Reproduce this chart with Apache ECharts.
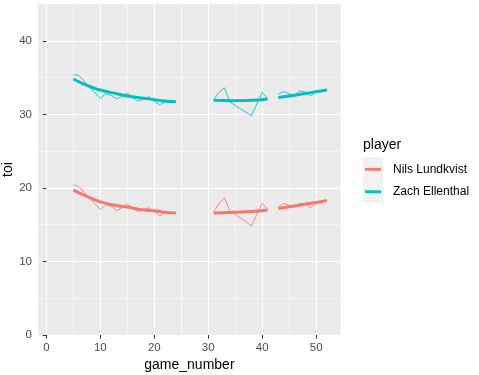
<!DOCTYPE html>
<html>
<head>
<meta charset="utf-8">
<script src="https://cdn.jsdelivr.net/npm/echarts@6/dist/echarts.min.js"></script>
<style>html,body{margin:0;padding:0;background:#fff}#c{width:479px;height:375px}</style>
</head>
<body>
<div id="c"></div>
<script>
const players = ['Nils Lundkvist', 'Zach Ellenthal'];
const colors = ['#F8766D', '#00BFC4'];
const segmentStarts = [5, 31, 43];
const games = [5,6,7,8,9,10,11,12,13,14,15,16,17,18,19,20,21,22,23,24,
               31,32,33,34,35,36,37,38,39,40,41,
               43,44,45,46,47,48,49,50,51,52];
const nilsToi = [20.4,20.2,19.4,18.6,17.8,17.1,17.7,17.5,16.9,17.3,17.8,17.2,16.8,17.0,17.3,16.8,16.2,16.7,16.6,16.6,
                 16.7,17.9,18.6,16.9,16.4,15.9,15.4,14.8,16.4,17.9,17.1,
                 17.4,17.9,17.6,17.4,17.9,17.8,17.3,17.9,18.0,18.3];
const zachToi = [35.4,35.3,34.5,33.7,32.9,32.2,32.8,32.6,32.1,32.4,32.9,32.3,31.8,32.1,32.4,31.8,31.3,31.7,31.7,31.7,
                 32.0,33.0,33.6,31.7,31.2,30.75,30.3,29.8,31.4,33.0,32.1,
                 32.75,33.1,32.8,32.6,33.2,33.0,32.5,33.1,33.2,33.4];
const smoothGames = [5,7,10,13,15,18,20,22,24, 31,34,38,41, 43,46,49,52];
const nilsSmooth = [19.7,19.0,18.1,17.6,17.4,17.0,16.9,16.7,16.6, 16.6,16.65,16.8,17.0, 17.2,17.55,17.9,18.3];
const zachSmooth = [34.8,34.1,33.3,32.8,32.5,32.2,32.0,31.8,31.7, 31.9,31.85,31.9,32.1, 32.3,32.6,32.95,33.3];
const xTicks = [0,10,20,30,40,50];
const xMinor = [5,15,25,35,45];
const yTicks = [0,10,20,30,40];
const yMinor = [5,15,25,35];

function build(xs, ys) {
  const out = [];
  xs.forEach((x, i) => {
    if (i > 0 && segmentStarts.indexOf(x) >= 0) out.push(null);
    out.push([x, ys[i]]);
  });
  return out;
}

const grid = {left: 38, top: 4, right: 138.3, bottom: 40, show: true, backgroundColor: '#EBEBEB', borderWidth: 0};
const txt = '#4D4D4D';
const font = 'Liberation Sans, Arial, sans-serif';

const option = {
  animation: false,
  grid: grid,
  xAxis: [
    {type: 'value', min: -1.55, max: 54.55, gridIndex: 0,
     axisLine: {show: false},
     axisTick: {show: true, length: 3.6, customValues: xTicks, lineStyle: {color: '#333333', width: 1}},
     axisLabel: {customValues: xTicks, color: txt, fontSize: 11.5, fontFamily: font, margin: 7},
     splitLine: {show: true, lineStyle: {color: '#FFFFFF', width: 1.07}}},
    {type: 'value', min: -1.55, max: 54.55, gridIndex: 0, position: 'bottom',
     axisLine: {show: false}, axisTick: {show: false, customValues: xMinor},
     axisLabel: {show: false, customValues: xMinor},
     splitLine: {show: true, lineStyle: {color: '#FFFFFF', width: 0.55}}}
  ],
  yAxis: [
    {type: 'value', min: 0, max: 45, gridIndex: 0,
     axisLine: {show: false},
     axisTick: {show: true, length: 3.6, customValues: yTicks, lineStyle: {color: '#333333', width: 1}},
     axisLabel: {customValues: yTicks, color: txt, fontSize: 11.5, fontFamily: font, margin: 6},
     splitLine: {show: true, lineStyle: {color: '#FFFFFF', width: 1.07}}},
    {type: 'value', min: 0, max: 45, gridIndex: 0, position: 'left',
     axisLine: {show: false}, axisTick: {show: false, customValues: yMinor},
     axisLabel: {show: false, customValues: yMinor},
     splitLine: {show: true, lineStyle: {color: '#FFFFFF', width: 0.55}}}
  ],
  series: [],
  graphic: []
};

const raw = [nilsToi, zachToi];
const sm = [nilsSmooth, zachSmooth];
players.forEach((p, i) => {
  option.series.push({
    name: p, type: 'line', xAxisIndex: 0, yAxisIndex: 0,
    data: build(games, raw[i]), showSymbol: false, connectNulls: false,
    lineStyle: {color: colors[i], width: 0.85}, itemStyle: {color: colors[i]}, z: 2
  });
  option.series.push({
    name: p + ' smooth', type: 'line', xAxisIndex: 0, yAxisIndex: 0,
    data: build(smoothGames, sm[i]), showSymbol: false, connectNulls: false, smooth: 0.4,
    lineStyle: {color: colors[i], width: 3}, itemStyle: {color: colors[i]}, z: 3
  });
});

// axis titles
option.graphic.push({type: 'text', x: 189.4, y: 365, style: {text: 'game_number', fill: '#000', font: '14px ' + font, align: 'center', verticalAlign: 'middle'}});
option.graphic.push({type: 'text', x: 8, y: 169.5, rotation: Math.PI / 2,
  style: {text: 'toi', fill: '#000', font: '14px ' + font, align: 'center', verticalAlign: 'middle'}});

// legend
option.graphic.push({type: 'text', x: 363, y: 145, style: {text: 'player', fill: '#000', font: '14px ' + font, verticalAlign: 'middle'}});
option.graphic.push({type: 'rect', shape: {x: 363, y: 157, width: 20, height: 46}, style: {fill: '#F2F2F2'}});
players.forEach((p, i) => {
  const yy = 169.3 + i * 22.4;
  option.graphic.push({type: 'line', shape: {x1: 365, y1: yy, x2: 381, y2: yy}, style: {stroke: colors[i], lineWidth: 2.8}});
  option.graphic.push({type: 'text', x: 393, y: yy, style: {text: p, fill: '#000', font: '12px ' + font, verticalAlign: 'middle'}});
});

const chart = echarts.init(document.getElementById('c'), null, {renderer: 'canvas'});
chart.setOption(option);
</script>
</body>
</html>
